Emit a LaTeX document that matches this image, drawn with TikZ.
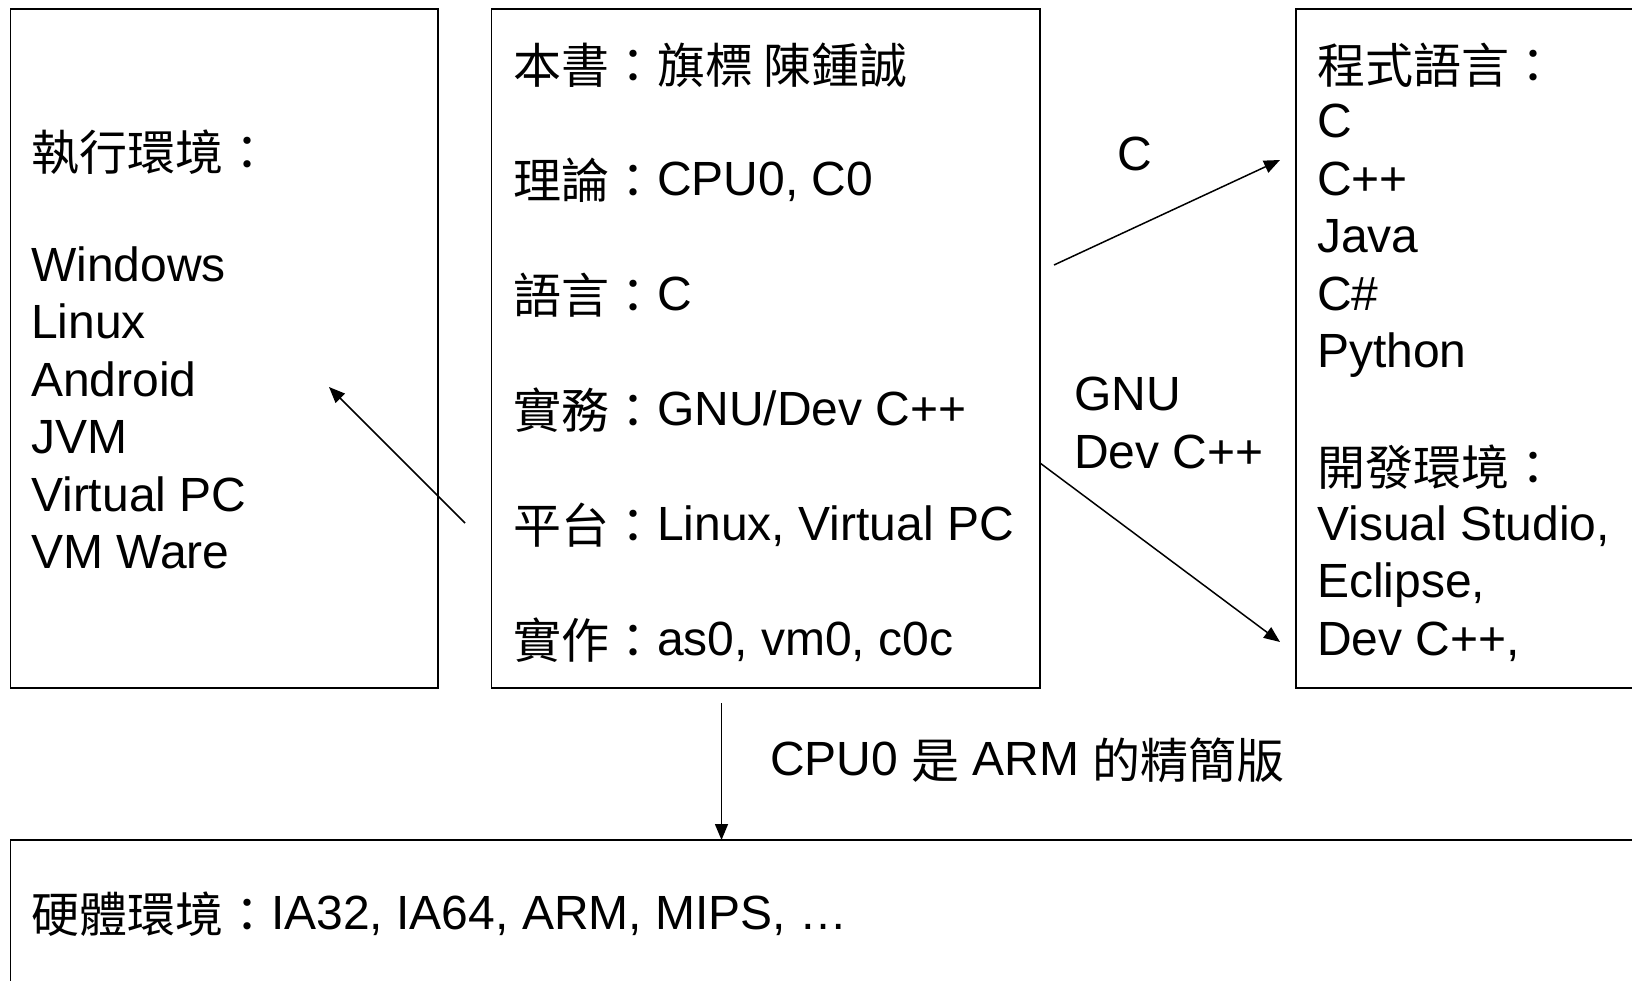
\documentclass[tikz,border=0pt]{standalone}
\usepackage{fontspec}
\setmainfont{Liberation Sans}
\newfontfamily\cjk{Noto Sans CJK TC}
\usetikzlibrary{arrows.meta}
\newcommand\zh[1]{\raisebox{-3pt}{\cjk #1}}
\begin{document}
\begin{tikzpicture}[x=1pt,y=-1pt,
  box/.style={draw, line width=1.5pt, inner sep=0pt, outer sep=0pt, anchor=north west},
  txt/.style={anchor=base west, inner sep=0pt, font=\fontsize{48}{57.5}\selectfont},
  arr/.style={line width=1.5pt, -{Triangle[length=16pt,width=13pt]}}]
\useasboundingbox (0,0) rectangle (1632,980);
\clip (0,0) rectangle (1632,980);
% boxes
\node[box, minimum width=427.5pt, minimum height=679pt] (envbox) at (10.5,9) {};
\node[box, minimum width=548.5pt, minimum height=679pt] (bookbox) at (491.5,9) {};
\node[box, minimum width=400pt, minimum height=679pt] (langbox) at (1296,9) {};
\node[box, minimum width=1700pt, minimum height=200pt] (hwbox) at (10.5,840) {};
% left box text
\node[txt] (l0) at (31,167) {\zh{執行環境：}};
\node[txt] (l1) at (31,281) {Windows};
\node[txt] (l2) at (31,338.5) {Linux};
\node[txt] (l3) at (31,396) {Android};
\node[txt] (l4) at (31,453.5) {JVM};
\node[txt] (l5) at (31,511) {Virtual PC};
\node[txt] (l6) at (31,568.5) {VM Ware};
% middle box text
\node[txt] (m1) at (513,80) {\zh{本書：旗標 陳鍾誠}};
\node[txt] (m2) at (513,195) {\zh{理論：}CPU0, C0};
\node[txt] (m3) at (513,310) {\zh{語言：}C};
\node[txt] (m4) at (513,425) {\zh{實務：}GNU/Dev C++};
\node[txt] (m5) at (513,540) {\zh{平台：}Linux, Virtual PC};
\node[txt] (m6) at (513,655) {\zh{實作：}as0, vm0, c0c};
% right box text
\node[txt] (r0) at (1317,80) {\zh{程式語言：}};
\node[txt] (r1) at (1317,137.5) {C};
\node[txt] (r2) at (1317,195) {C++};
\node[txt] (r3) at (1317,252.5) {Java};
\node[txt] (r4) at (1317,310) {C\#};
\node[txt] (r5) at (1317,367.5) {Python};
\node[txt] (r7) at (1317,482.5) {\zh{開發環境：}};
\node[txt] (r8) at (1317,540) {Visual Studio,};
\node[txt] (r9) at (1317,597.5) {Eclipse,};
\node[txt] (r10) at (1317,655) {Dev C++,};
% bottom box text
\node[txt] (b1) at (31,929) {\zh{硬體環境：}IA32, IA64, ARM, MIPS, …};
% labels
\node[txt] (lblC) at (1117,170) {C};
\node[txt] (lblGNU) at (1074,410.5) {GNU};
\node[txt] (lblDev) at (1074,468) {Dev C++};
\node[txt] (lblCPU) at (770,775) {CPU0 \zh{是} ARM \zh{的精簡版}};
% connectors
\coordinate (cS) at (1054,265);
\coordinate (cE) at (1280,160);
\coordinate (gS) at (1040,463);
\coordinate (gE) at (1280,642);
\coordinate (eS) at (465,523);
\coordinate (eE) at (329,387);
\coordinate (dS) at (721.5,703);
\coordinate (dE) at (721.5,840);
\draw[arr] (cS) -- (cE);
\draw[arr] (gS) -- (gE);
\draw[arr] (eS) -- (eE);
\draw[arr] (dS) -- (dE);
\end{tikzpicture}
\end{document}
